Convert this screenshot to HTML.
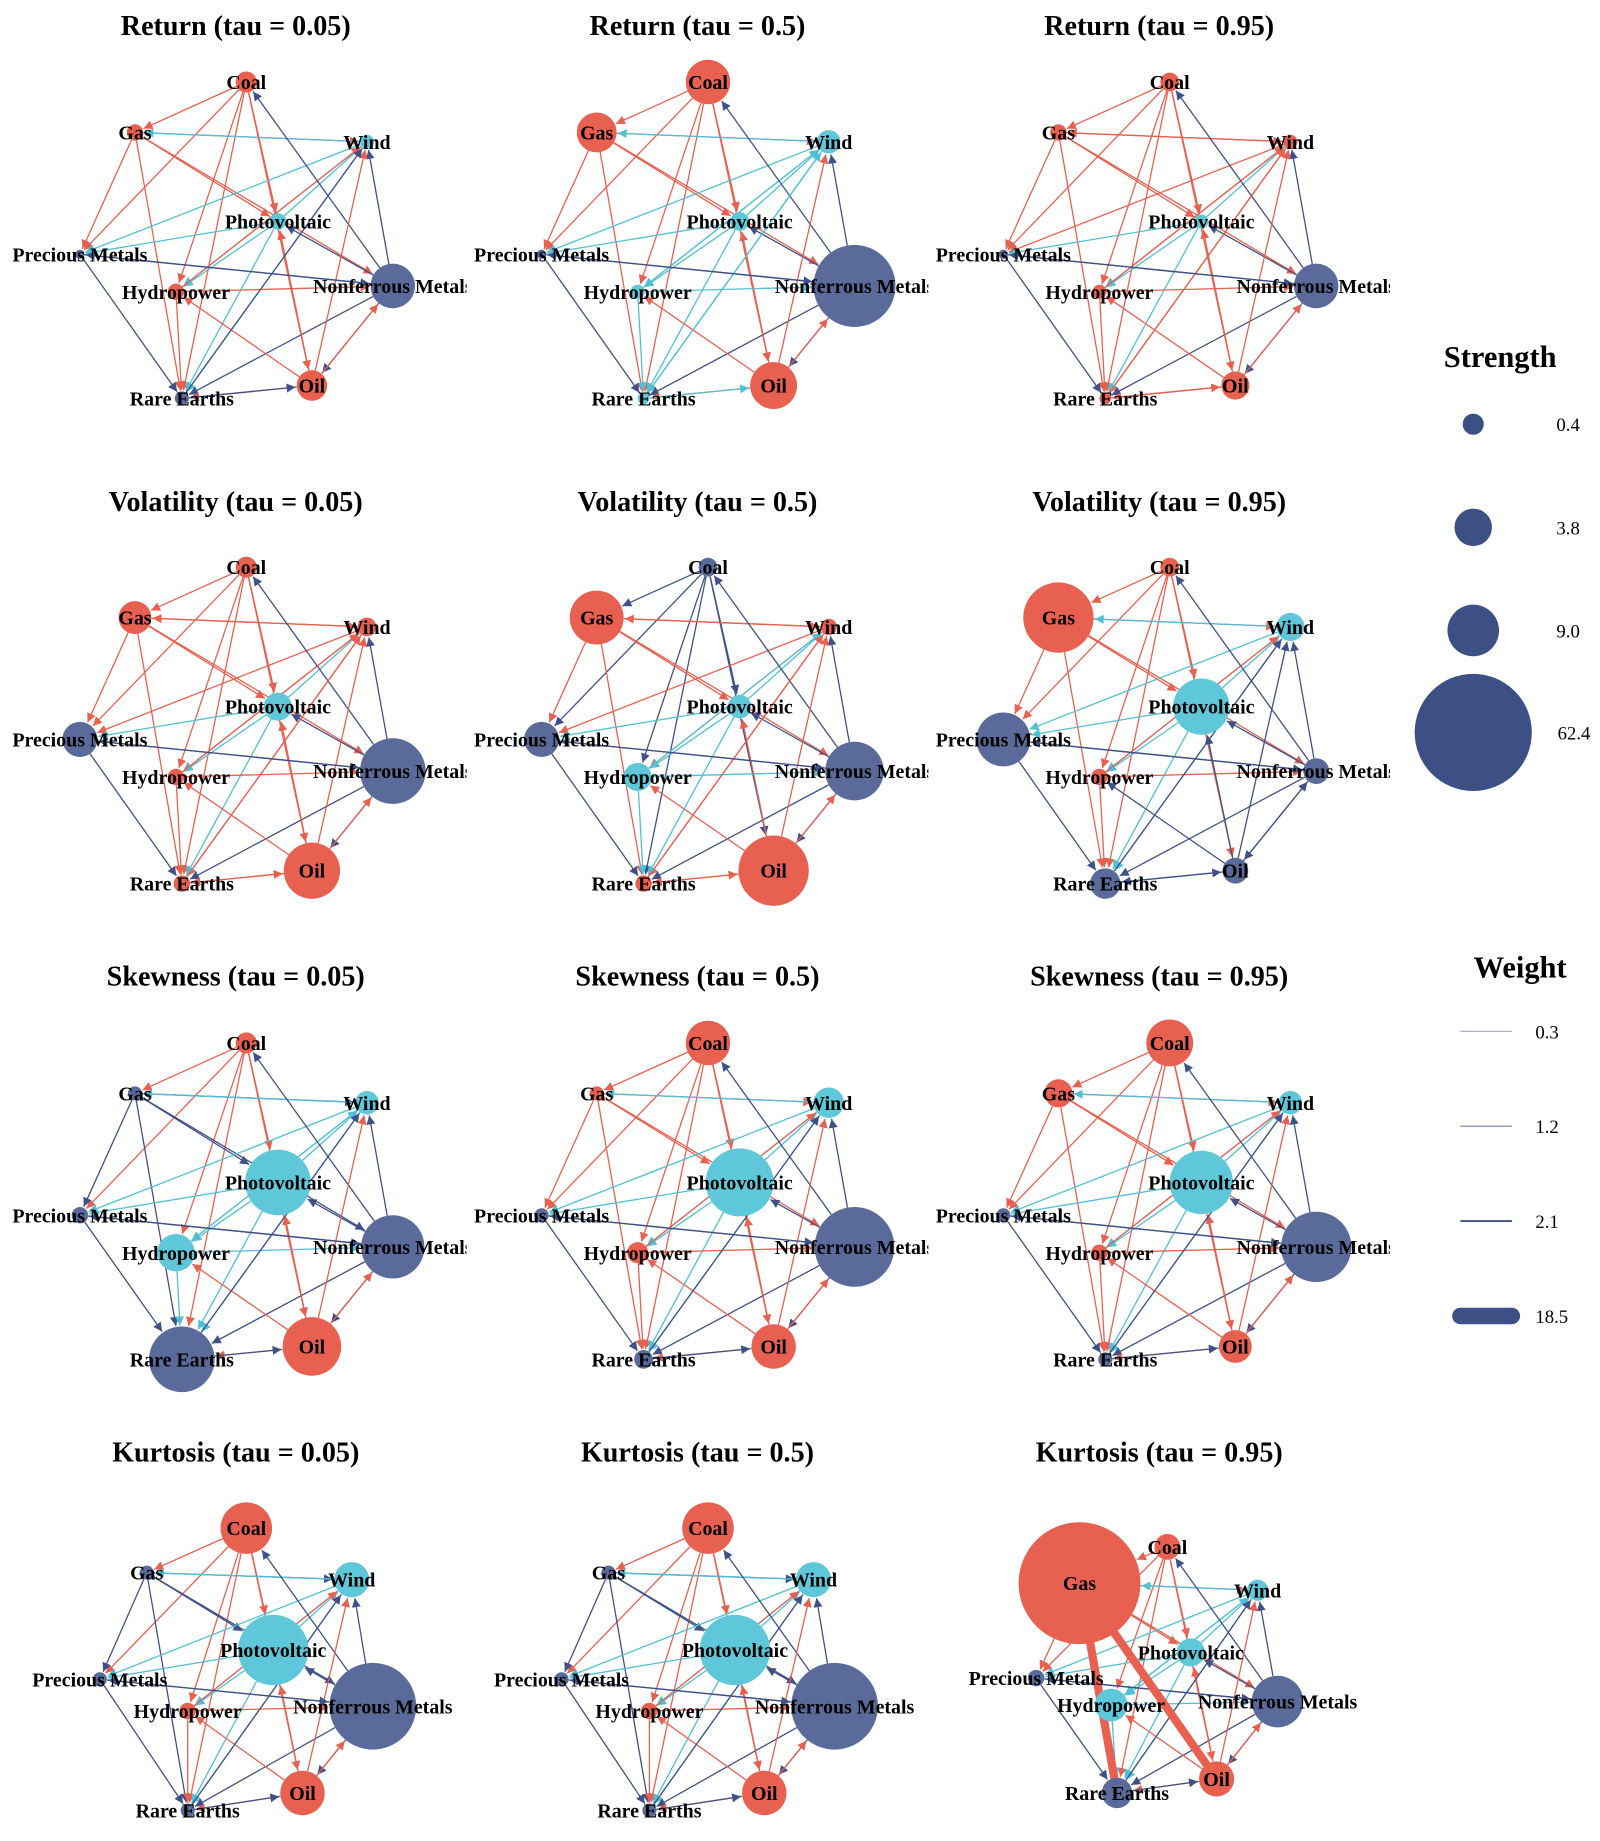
<!DOCTYPE html>
<html><head><meta charset="utf-8"><style>
html,body{margin:0;padding:0;background:#fff;}
svg{display:block;font-family:"Liberation Serif",serif;}
</style></head><body>
<svg id="chart" width="1600" height="1841" viewBox="0 0 1365 1571" xmlns="http://www.w3.org/2000/svg">
<defs>
<marker id="ar-red" viewBox="0 0 10 10" refX="10" refY="5" markerWidth="7" markerHeight="7" orient="auto"><path d="M0,0L10,5L0,10z" fill="#E8604F"/></marker>
<marker id="ar-dark" viewBox="0 0 10 10" refX="10" refY="5" markerWidth="7" markerHeight="7" orient="auto"><path d="M0,0L10,5L0,10z" fill="#3E5188"/></marker>
<marker id="ar-cyan" viewBox="0 0 10 10" refX="10" refY="5" markerWidth="7" markerHeight="7" orient="auto"><path d="M0,0L10,5L0,10z" fill="#4FC0D6"/></marker>
</defs>
<g id="panels"></g>
<g>
<text x="1280" y="313" font-size="26" font-weight="bold" text-anchor="middle">Strength</text>
<circle cx="1257" cy="362" r="9" fill="#3D5086"/><text x="1338" y="368" font-size="16" text-anchor="middle">0.4</text>
<circle cx="1257" cy="450" r="16" fill="#3D5086"/><text x="1338" y="456" font-size="16" text-anchor="middle">3.8</text>
<circle cx="1257" cy="538" r="22" fill="#3D5086"/><text x="1338" y="544" font-size="16" text-anchor="middle">9.0</text>
<circle cx="1257" cy="625" r="50" fill="#3D5086"/><text x="1343" y="631" font-size="16" text-anchor="middle">62.4</text>
</g>
<g>
<text x="1297" y="834" font-size="26" font-weight="bold" text-anchor="middle">Weight</text>
<line x1="1246" y1="880" x2="1290" y2="880" stroke="#7080a8" stroke-width="0.6"/><text x="1320" y="886" font-size="16" text-anchor="middle">0.3</text>
<line x1="1246" y1="961" x2="1290" y2="961" stroke="#6a7aa6" stroke-width="1"/><text x="1320" y="967" font-size="16" text-anchor="middle">1.2</text>
<line x1="1246" y1="1042" x2="1290" y2="1042" stroke="#3D5086" stroke-width="1.6"/><text x="1320" y="1048" font-size="16" text-anchor="middle">2.1</text>
<line x1="1246" y1="1123" x2="1290" y2="1123" stroke="#3D5086" stroke-width="14" stroke-linecap="round"/><text x="1324" y="1129" font-size="16" text-anchor="middle">18.5</text>
</g>
</svg>
<script>
const nodeNames = ["Coal","Gas","Wind","Photovoltaic","Precious Metals","Hydropower","Nonferrous Metals","Oil","Rare Earths"];
const panelTitles = ["Return (tau = 0.05)","Return (tau = 0.5)","Return (tau = 0.95)",
 "Volatility (tau = 0.05)","Volatility (tau = 0.5)","Volatility (tau = 0.95)",
 "Skewness (tau = 0.05)","Skewness (tau = 0.5)","Skewness (tau = 0.95)",
 "Kurtosis (tau = 0.05)","Kurtosis (tau = 0.5)","Kurtosis (tau = 0.95)"];
const nodeColors = [
 "rrccdrdrd","rrccdcdrc","rrrcdrdrr",
 "rrrcdrdrr","drrcdcdrr","rrccdrddd",
 "rdccdcdrd","rrccdrdrd","rrccdrdrd",
 "rdccdrdrd","rdccdrdrd","rrccdcdrd"];
const nodeSizes = [
 [9,7,6,7,4,7,19,13,6],[19,17,10,8,4,6,35,20,5],[8,7,6,6,4,6,19,12,5],
 [9,14,8,12,15,7,28,24,7],[8,23,7,10,15,12,25,30,7],[8,30,12,24,23,7,11,11,13],
 [9,6,10,28,7,16,27,25,28],[19,6,13,29,6,9,34,19,8],[20,12,10,27,6,7,30,14,6],
 [22,6,15,30,6,7,37,19,6],[22,6,15,30,6,7,37,19,6],[11,52,9,12,7,14,22,15,13]];
const edgesFrom = [0,0,0,0,0,0,1,1,1,1,1,2,2,2,2,3,3,3,3,5,5,5,6,6,6,6,6,6,7,7,7,7,7,4,8,8,4];
const edgesTo   = [1,4,3,8,7,5,2,3,4,8,6,4,5,8,1,4,8,5,2,8,2,6,0,3,2,7,4,8,6,8,5,2,3,8,7,2,6];
const edgeWidths = [1,1,1,1,1,1,1,1,1,1,1,1,1,1,1,1,1,1,1,1,1,1,1,1,1,1,1,1,1,1,1,1,1,1,1,1,1];
const layoutA = [[210,70],[115,113],[313,121],[237,189],[68,217],[150,249],[335,244],[266,329],[155,340]];
const layoutK = [[210,72],[125,110],[300,116],[233,176],[85,201],[160,228],[318,224],[258,298],[160,313]];
const layoutK95 = [[208,88],[133,119],[285,125],[228,178],[96,200],[160,223],[302,220],[250,286],[165,298]];
const colX = [0,394,788], rowY = [0,414,820,1232], titleY=[30,436,841,1247];
const COL = {r:"#E8604F", d:"#5A6B9B", c:"#5EC7D9"};
const ECOL = {r:"#E8604F", d:"#3E5188", c:"#4FC0D6"};
const MK = {r:"ar-red", d:"ar-dark", c:"ar-cyan"};
const NS="http://www.w3.org/2000/svg";
const root=document.getElementById("panels");
const defs=document.querySelector("defs");
for(let p=0;p<12;p++){
  const row=Math.floor(p/3);
  const ox=colX[p%3], oy=rowY[row];
  const lay = p===11?layoutK95:(p>=9?layoutK:layoutA);
  const g=document.createElementNS(NS,"g");
  
  
  const cp=document.createElementNS(NS,"clipPath");cp.id="cp"+p;
  const cr=document.createElementNS(NS,"rect");cr.setAttribute("x",ox);cr.setAttribute("y",oy+40);cr.setAttribute("width",398);cr.setAttribute("height",380);
  cp.appendChild(cr);defs.appendChild(cp);
  g.setAttribute("clip-path","url(#cp"+p+")");
  root.appendChild(g);
  const t=document.createElementNS(NS,"text");
  
  
  t.setAttribute("x",ox+201);t.setAttribute("y",titleY[row]);t.setAttribute("font-size","24");t.setAttribute("font-weight","bold");t.setAttribute("text-anchor","middle");
  t.textContent=panelTitles[p];root.appendChild(t);
  const pos=lay.map(q=>[q[0]+ox,q[1]+oy]);
  const cols=nodeColors[p], rs=nodeSizes[p];
  for(let e=0;e<edgesFrom.length;e++){
    const a=edgesFrom[e], b=edgesTo[e];
    const [x1,y1]=pos[a],[x2,y2]=pos[b];
    const dx=x2-x1, dy=y2-y1, L=Math.hypot(dx,dy);
    const s=rs[a]/L, f=(L-rs[b]-1)/L;
    const ln=document.createElementNS(NS,"line");
    
    
    ln.setAttribute("x1",x1+dx*s);ln.setAttribute("y1",y1+dy*s);
    ln.setAttribute("x2",x1+dx*f);ln.setAttribute("y2",y1+dy*f);
    const c=cols[a];
    ln.setAttribute("stroke",ECOL[c]);ln.setAttribute("stroke-width",edgeWidths[e]*1.1);
    ln.setAttribute("marker-end","url(#"+MK[c]+")");
    g.appendChild(ln);
  }
  if(p===11){
    [[1,8],[1,7]].forEach(([a,b])=>{
      const ln=document.createElementNS(NS,"line");
      
      
      ln.setAttribute("x1",pos[a][0]);ln.setAttribute("y1",pos[a][1]);
      ln.setAttribute("x2",pos[b][0]);ln.setAttribute("y2",pos[b][1]);
      ln.setAttribute("stroke","#E8604F");ln.setAttribute("stroke-width",7);
      g.appendChild(ln);
    });
  }
  for(let n=0;n<9;n++){
    const c=document.createElementNS(NS,"circle");
    
    
    c.setAttribute("cx",pos[n][0]);c.setAttribute("cy",pos[n][1]);c.setAttribute("r",rs[n]);
    c.setAttribute("fill",COL[cols[n]]);g.appendChild(c);
  }
  for(let n=0;n<9;n++){
    const tx=document.createElementNS(NS,"text");
    
    
    tx.setAttribute("x",pos[n][0]);tx.setAttribute("y",pos[n][1]+6);
    tx.setAttribute("font-size","17");tx.setAttribute("font-weight","bold");tx.setAttribute("text-anchor","middle");
    tx.textContent=nodeNames[n];g.appendChild(tx);
  }
}
</script>
</body></html>
